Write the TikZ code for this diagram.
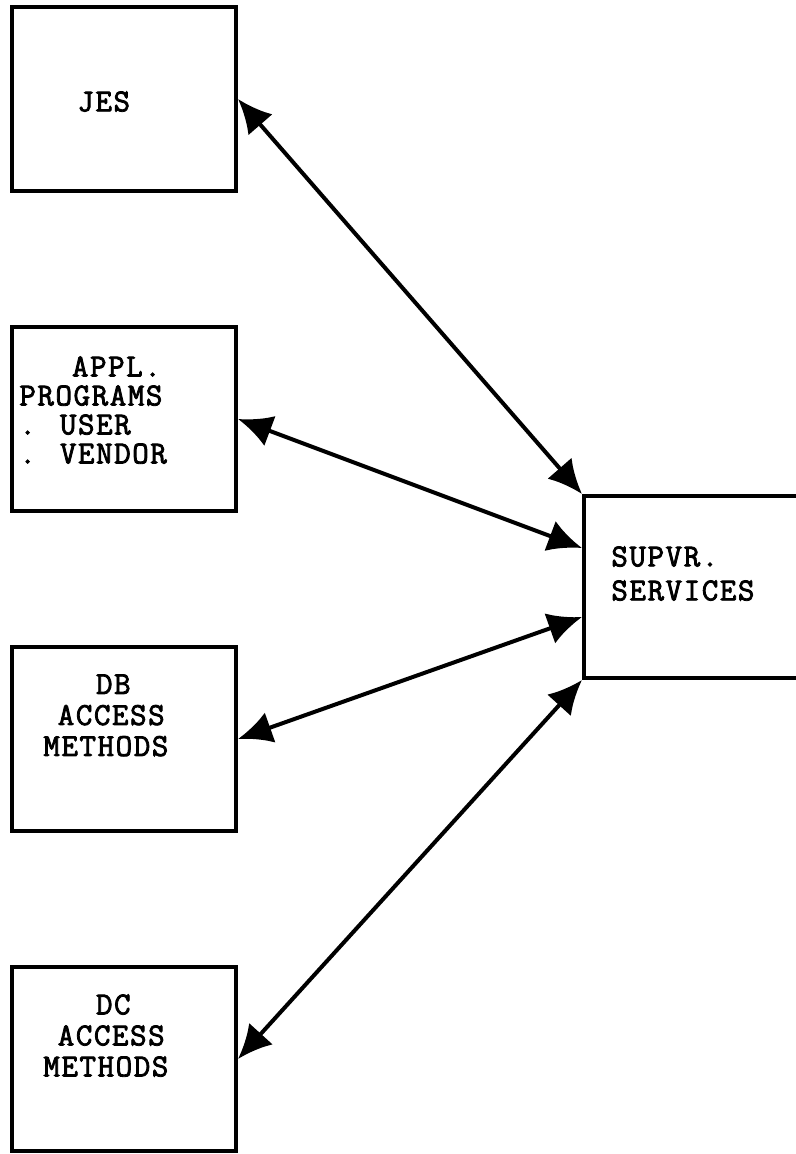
\documentclass[tikz,border=0pt]{standalone}
\usepackage{fontspec}
\newfontfamily\typewriter{Latin Modern Mono}[FakeBold=2.5, LetterSpace=5]
\usetikzlibrary{arrows.meta}
\tikzstyle{box} = [rectangle, draw, line width=2pt,
    minimum width=112pt, minimum height=92pt, inner sep=0pt]
\tikzstyle{caption} = [font=\typewriter\fontsize{16pt}{15.5pt}\selectfont,
    align=left, inner sep=0pt, anchor=north west]
\tikzstyle{link} = [draw, line width=2pt,
    {Latex[length=17pt,width=16pt]}-{Latex[length=17pt,width=16pt]}]

\begin{document}
\begin{tikzpicture}[x=0.5pt, y=-0.5pt, node distance=160pt]
    \path [use as bounding box, clip] (0,0) rectangle (796,1154);
    % Nodes
    \node [box] (jes) at (124,99) {};
    \node [box, below of=jes] (appl) {};
    \node [box, below of=appl] (db) {};
    \node [box, below of=db] (dc) {};
    \node [box, minimum width=150pt, minimum height=91pt] (supvr) at (734,587) {};
    % Texts
    \node [caption] (jestext) at (77,91) {JES};
    \node [caption, font=\typewriter\fontsize{16pt}{14.5pt}\selectfont] (appltext) at (19,356)
        {\phantom{XXX}APPL.\\PROGRAMS\\. USER\\. VENDOR};
    \node [caption] (dbtext) at (43,674) {\phantom{XXX}DB\\\hspace*{0.45em}ACCESS\\METHODS};
    \node [caption] (dctext) at (43,994) {\phantom{XXX}DC\\\hspace*{0.45em}ACCESS\\METHODS};
    \node [caption, font=\typewriter\fontsize{16pt}{17pt}\selectfont] (supvrtext) at (611,546)
        {SUPVR.\\SERVICES};
    % Edges
    \path [link] (jes.east) -- (supvr.north west);
    \path [link] (appl.east) -- ([yshift=19.5pt]supvr.west);
    \path [link] (db.east) -- ([yshift=-15pt]supvr.west);
    \path [link] (dc.east) -- (supvr.south west);
\end{tikzpicture}
\end{document}
